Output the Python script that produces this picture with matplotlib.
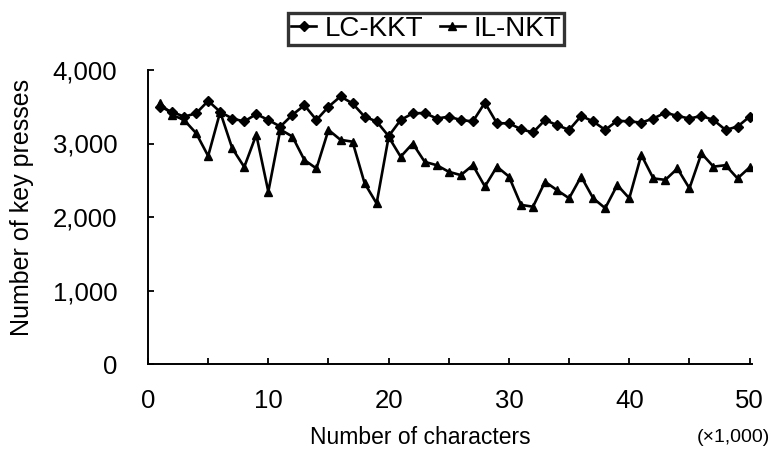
import matplotlib
matplotlib.use("Agg")
import matplotlib.pyplot as plt
from matplotlib.ticker import MultipleLocator, FuncFormatter

plt.rcParams['font.family'] = ['Liberation Sans', 'DejaVu Sans']

characters = list(range(1, 51))
lc_kkt = [3500, 3430, 3365, 3410, 3580, 3430, 3340, 3300, 3400, 3320,
          3230, 3390, 3520, 3320, 3500, 3640, 3545, 3365, 3300, 3100,
          3320, 3410, 3415, 3340, 3365, 3320, 3300, 3555, 3275, 3275,
          3195, 3150, 3320, 3250, 3185, 3375, 3300, 3185, 3310, 3300,
          3285, 3340, 3420, 3375, 3340, 3375, 3320, 3185, 3230, 3365]
il_nkt = [3550, 3390, 3320, 3140, 2830, 3430, 2935, 2680, 3120, 2345,
          3190, 3095, 2775, 2660, 3185, 3050, 3025, 2460, 2185, 3090,
          2820, 3000, 2750, 2705, 2615, 2570, 2705, 2415, 2685, 2550,
          2165, 2140, 2480, 2365, 2255, 2550, 2255, 2120, 2435, 2255,
          2845, 2525, 2505, 2660, 2390, 2865, 2685, 2705, 2525, 2675]
series_names = ["LC-KKT", "IL-NKT"]
y_ticks = [0, 1000, 2000, 3000, 4000]
x_ticks = [0, 10, 20, 30, 40, 50]

fig = plt.figure(figsize=(7.71, 4.51), dpi=100)
ax = fig.add_axes([148/771, (451-364)/451, 604/771, 294/451])

l1, = ax.plot(characters, lc_kkt, color='black', lw=1.9, marker='D', ms=5,
              label=series_names[0])
l2, = ax.plot(characters, il_nkt, color='black', lw=1.9, marker='^', ms=6,
              label=series_names[1])

ax.set_xlim(0, 50.2)
ax.set_ylim(0, 4000)
ax.set_xticks(x_ticks)
ax.xaxis.set_minor_locator(MultipleLocator(5))
ax.set_yticks(y_ticks)
ax.yaxis.set_major_formatter(FuncFormatter(lambda v, p: f"{int(v):,}"))
ax.tick_params(axis='both', which='both', direction='in', length=4, width=1.3,
               labelsize=18.5)
ax.tick_params(axis='y', pad=22)
ax.tick_params(axis='x', which='both', pad=18)
for s in ['top', 'right']:
    ax.spines[s].set_visible(False)
for s in ['left', 'bottom']:
    ax.spines[s].set_linewidth(1.4)

ax.set_xlabel("Number of characters", fontsize=16.5)
ax.set_ylabel("Number of key presses", fontsize=18)
ax.xaxis.label.set_va('center')
ax.yaxis.label.set_va('center')
ax.xaxis.set_label_coords((420-148)/604, (364-437)/294)
ax.yaxis.set_label_coords((22-148)/604, (364-207)/294)
fig.text(733/771, 1 - 437/451, "(×1,000)", fontsize=14, ha='center', va='center')

leg = fig.legend(handles=[l1, l2], loc='center', bbox_to_anchor=(426/771, 1 - 29/451),
                 ncol=2, fontsize=20, frameon=True, fancybox=False,
                 handlelength=0.9, handletextpad=0.3, columnspacing=0.6,
                 borderpad=0.12, borderaxespad=0)
leg.get_frame().set_edgecolor('black')
leg.get_frame().set_linewidth(2.4)

fig.savefig("out.png", dpi=100)
